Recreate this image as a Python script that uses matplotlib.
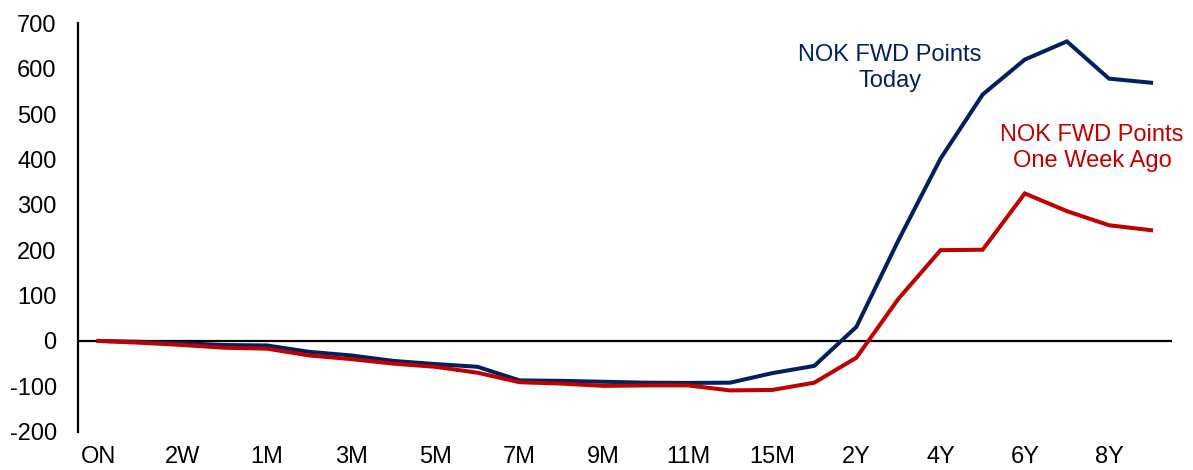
import matplotlib
matplotlib.use("Agg")
import matplotlib.pyplot as plt
import numpy as np

plt.rcParams['font.family'] = ['Liberation Sans', 'DejaVu Sans']

tenors = ["ON", "1W", "2W", "3W", "1M", "2M", "3M", "4M", "5M", "6M", "7M", "8M",
          "9M", "10M", "11M", "12M", "15M", "18M", "2Y", "3Y", "4Y", "5Y", "6Y",
          "7Y", "8Y", "10Y"]
today = [0, -2, -5, -9, -10, -24, -32, -44, -51, -57, -87, -88, -90, -92, -92.5,
         -92, -71, -55, 31, 222, 402, 543, 620, 660, 578, 569]
week_ago = [0, -4, -9, -15, -17, -32, -40, -50, -57, -70, -91, -94, -99, -98, -98,
            -109, -108, -92, -37, 93, 200, 201, 325, 286, 255, 244]
yticks = list(range(-200, 701, 100))

navy = "#002060"
red = "#C00000"

fig = plt.figure(figsize=(11.93, 4.70), dpi=100)
ax = fig.add_axes([0.065, 0.0815, 0.9175, 0.869])

x = np.arange(len(tenors))
ax.plot(x, today, color=navy, lw=2.9, solid_joinstyle='miter', zorder=3)
ax.plot(x, week_ago, color=red, lw=2.9, solid_joinstyle='miter', zorder=3)
ax.axhline(0, color='black', lw=1.6, zorder=2)

ax.set_xlim(-0.5, len(tenors) - 0.5)
ax.set_ylim(-200, 700)
ax.set_yticks(yticks)
ax.set_yticklabels([str(v) for v in yticks])
ax.set_xticks(x[::2])
ax.set_xticklabels(tenors[::2])

for s in ['top', 'right', 'bottom']:
    ax.spines[s].set_visible(False)
ax.spines['left'].set_linewidth(1.6)
ax.tick_params(axis='y', length=0, pad=15, labelsize=17)
ax.tick_params(axis='x', length=0, pad=10.5, labelsize=17)

ax.text(18.8, 602, "NOK FWD Points\nToday", color=navy, fontsize=17,
        ha='center', va='center', linespacing=1.25)
ax.text(23.6, 425, "NOK FWD Points\nOne Week Ago", color=red, fontsize=17,
        ha='center', va='center', linespacing=1.25)

fig.savefig("out.png", dpi=100)
